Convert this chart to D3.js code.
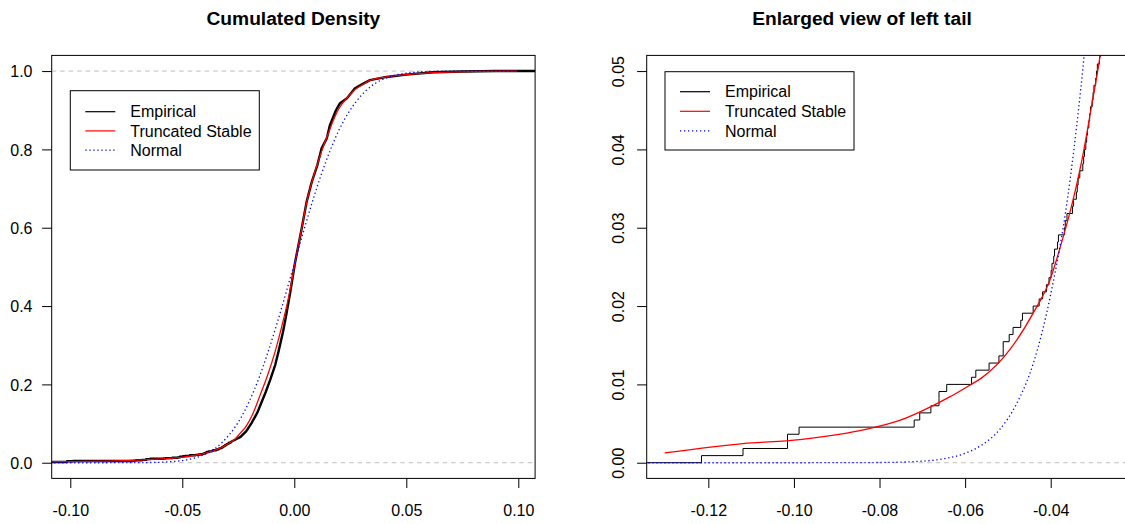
<!DOCTYPE html>
<html>
<head>
<meta charset="utf-8">
<script src="https://cdn.jsdelivr.net/npm/d3@7"></script>
<style>
  body { margin: 0; background: #fff; }
  svg text { font-family: "Liberation Sans", Arial, sans-serif; fill: #000; }
</style>
</head>
<body>
<svg id="chart" width="1125" height="524"></svg>
<script>
// sample size of the empirical distribution
const n = 1100;

// sorted observations in the left tail (read from the enlarged view)
const tailObs = [-0.1216, -0.1119, -0.1015, -0.1015, -0.0988, -0.0719, -0.0706, -0.0680,
  -0.0661, -0.0661, -0.0643, -0.0585, -0.0575, -0.0544, -0.0521, -0.0511, -0.0511,
  -0.0497, -0.0488, -0.0470, -0.0466, -0.0441, -0.0427, -0.0419, -0.0410, -0.0404,
  -0.0399, -0.0397, -0.0393, -0.0391, -0.0384, -0.0382, -0.0368, -0.0366, -0.0362,
  -0.0349, -0.0347, -0.0340, -0.0338, -0.0336, -0.0332, -0.0325, -0.0323, -0.0321,
  -0.0318, -0.0316, -0.0314, -0.0311, -0.0309, -0.0307, -0.0303, -0.0301, -0.0299,
  -0.0295, -0.0293, -0.0291, -0.0286, -0.0284, -0.0282];

// empirical cdf in the body [x, F]
const empBody = [[-0.0260, 0.060], [-0.0240, 0.066], [-0.0215, 0.080], [-0.0190, 0.102],
  [-0.0165, 0.128], [-0.0148, 0.152], [-0.0128, 0.180], [-0.0108, 0.211], [-0.0085, 0.250],
  [-0.0070, 0.285], [-0.0050, 0.335], [-0.0035, 0.380], [-0.0019, 0.432], [0.0003, 0.510],
  [0.0033, 0.598], [0.0055, 0.666], [0.0078, 0.717], [0.0103, 0.760], [0.0122, 0.803],
  [0.0145, 0.828], [0.0159, 0.862], [0.0186, 0.900], [0.0204, 0.918], [0.0234, 0.930],
  [0.0271, 0.956], [0.0308, 0.968], [0.0338, 0.977], [0.0412, 0.985], [0.0500, 0.991],
  [0.0620, 0.997], [0.0750, 0.999], [0.0900, 1.000]];

// truncated stable cdf [x, F]
const stableCdf = [[-0.1302, 0.00125], [-0.1119, 0.00245], [-0.0986, 0.00296], [-0.0830, 0.00428],
  [-0.0753, 0.0054], [-0.0675, 0.0073], [-0.0636, 0.0084], [-0.0589, 0.0099], [-0.0562, 0.0108],
  [-0.0496, 0.0144], [-0.0441, 0.0191], [-0.0402, 0.0233], [-0.0371, 0.0288], [-0.0348, 0.0335],
  [-0.0324, 0.0395], [-0.0305, 0.0454], [-0.0285, 0.0518], [-0.0262, 0.062], [-0.0242, 0.075],
  [-0.0213, 0.095], [-0.0185, 0.125], [-0.0153, 0.172], [-0.0120, 0.222], [-0.0085, 0.285],
  [-0.0055, 0.350], [-0.0022, 0.432], [0.0003, 0.510], [0.0033, 0.598], [0.0055, 0.664],
  [0.0078, 0.716], [0.0103, 0.762], [0.0125, 0.800], [0.0150, 0.838], [0.0175, 0.875],
  [0.0200, 0.905], [0.0230, 0.928], [0.0270, 0.952], [0.0310, 0.967], [0.0338, 0.976],
  [0.0412, 0.985], [0.0500, 0.991], [0.0620, 0.996], [0.0800, 0.999], [0.0993, 1.000]];

// normal cdf [x, F]
const normalCdf = [[-0.134, 0], [-0.100, 0], [-0.080, 0.00003], [-0.070, 0.0002], [-0.065, 0.0005],
  [-0.060, 0.0012], [-0.056, 0.0023], [-0.052, 0.0042], [-0.048, 0.0075], [-0.044, 0.0128],
  [-0.040, 0.0215], [-0.036, 0.034], [-0.032, 0.053], [-0.028, 0.079], [-0.024, 0.113],
  [-0.020, 0.158], [-0.016, 0.213], [-0.012, 0.278], [-0.008, 0.350], [-0.004, 0.428],
  [0.000, 0.508], [0.004, 0.588], [0.008, 0.665], [0.012, 0.735], [0.016, 0.797],
  [0.020, 0.850], [0.024, 0.892], [0.028, 0.925], [0.032, 0.950], [0.036, 0.968],
  [0.040, 0.980], [0.044, 0.988], [0.048, 0.993], [0.052, 0.996], [0.060, 0.999],
  [0.070, 0.9998], [0.100, 1]];

const leftXTicks = [-0.10, -0.05, 0, 0.05, 0.10];
const leftYTicks = [0, 0.2, 0.4, 0.6, 0.8, 1.0];
const rightXTicks = [-0.12, -0.10, -0.08, -0.06, -0.04];
const rightYTicks = [0, 0.01, 0.02, 0.03, 0.04, 0.05];
const legendLabels = ["Empirical", "Truncated Stable", "Normal"];

const svg = d3.select("#chart");
svg.append("rect").attr("width", 1125).attr("height", 524).attr("fill", "#fff");

const fmt = k => (d => d.toFixed(k));

// step corners of the ecdf for the tail observations
function tailSteps(x0) {
  const pts = [[x0, 0]];
  tailObs.forEach((v, i) => {
    pts.push([v, i / n]);
    pts.push([v, (i + 1) / n]);
  });
  return pts;
}

function drawPanel(p) {
  const x = d3.scaleLinear().domain(p.xDomain).range(p.xRange);
  const y = d3.scaleLinear().domain(p.yDomain).range([478.4, 55.4]);
  const g = svg.append("g");
  const clipId = "clip-" + p.id;
  g.append("clipPath").attr("id", clipId)
    .append("rect")
    .attr("x", p.xRange[0]).attr("y", 55.4)
    .attr("width", p.xRange[1] - p.xRange[0]).attr("height", 478.4 - 55.4);

  const plot = g.append("g").attr("clip-path", `url(#${clipId})`);
  const line = d3.line().x(d => x(d[0])).y(d => y(d[1]));

  // reference lines
  p.refLines.forEach(v => {
    plot.append("line")
      .attr("x1", p.xRange[0]).attr("x2", p.xRange[1])
      .attr("y1", y(v)).attr("y2", y(v))
      .attr("stroke", "#bebebe").attr("stroke-width", 1)
      .attr("stroke-dasharray", "4.5,4");
  });

  // empirical
  let emp = tailSteps(p.xDomain[0]);
  if (p.id === "left") {
    emp = emp.concat(empBody).concat([[p.xDomain[1] + 0.01, 1]]);
  }
  plot.append("path").datum(emp)
    .attr("d", line.curve(d3.curveLinear))
    .attr("fill", "none").attr("stroke", "#000")
    .attr("stroke-width", p.empWidth).attr("stroke-linejoin", "round");

  // truncated stable
  plot.append("path").datum(stableCdf)
    .attr("d", d3.line().x(d => x(d[0])).y(d => y(d[1])).curve(d3.curveMonotoneX))
    .attr("fill", "none").attr("stroke", "#ff0000").attr("stroke-width", 1.3);

  // normal
  plot.append("path").datum(normalCdf)
    .attr("d", d3.line().x(d => x(d[0])).y(d => y(d[1])).curve(d3.curveMonotoneX))
    .attr("fill", "none").attr("stroke", "#0000ff").attr("stroke-width", 1.3)
    .attr("stroke-dasharray", "1.3,2.7");

  // box
  g.append("rect")
    .attr("x", p.xRange[0]).attr("y", 55.4)
    .attr("width", p.xRange[1] - p.xRange[0]).attr("height", 478.4 - 55.4)
    .attr("fill", "none").attr("stroke", "#000").attr("stroke-width", 1);

  // x axis
  const xa = g.append("g").attr("transform", "translate(0,478.4)")
    .call(d3.axisBottom(x).tickValues(p.xTicks).tickFormat(fmt(2)).tickSize(9.6).tickSizeOuter(0));
  xa.select(".domain").remove();
  xa.selectAll("line").attr("stroke", "#000");
  xa.selectAll("text").attr("y", 38).attr("dy", 0)
    .style("font-size", "16px").attr("fill", "#000");

  // y axis
  const ya = g.append("g").attr("transform", `translate(${p.xRange[0]},0)`)
    .call(d3.axisLeft(y).tickValues(p.yTicks).tickFormat(fmt(p.yDigits)).tickSize(9.6).tickSizeOuter(0));
  ya.select(".domain").remove();
  ya.selectAll("line").attr("stroke", "#000");
  const yt = ya.selectAll("text").style("font-size", "16px").attr("fill", "#000");
  if (p.rotateY) {
    yt.attr("transform", "rotate(-90)").attr("x", 0).attr("y", -23.2).attr("dy", 0)
      .attr("text-anchor", "middle");
  } else {
    yt.attr("x", -19.2).attr("dy", "0.35em");
  }

  // title
  g.append("text").attr("x", p.titleX).attr("y", 25)
    .attr("text-anchor", "middle")
    .style("font-size", "19.2px").style("font-weight", "bold")
    .text(p.title);

  // legend
  const L = p.legend;
  const lg = g.append("g");
  lg.append("rect").attr("x", L.x).attr("y", L.y).attr("width", L.w).attr("height", L.h)
    .attr("fill", "#fff").attr("stroke", "#000").attr("stroke-width", 1);
  const styles = [
    { stroke: "#000", dash: null },
    { stroke: "#ff0000", dash: null },
    { stroke: "#0000ff", dash: "1.3,2.7" }
  ];
  legendLabels.forEach((lab, i) => {
    const ly = L.y + L.first + i * L.step;
    lg.append("line")
      .attr("x1", L.x + 15).attr("x2", L.x + 45)
      .attr("y1", ly).attr("y2", ly)
      .attr("stroke", styles[i].stroke).attr("stroke-width", 1.2)
      .attr("stroke-dasharray", styles[i].dash);
    lg.append("text").attr("x", L.x + 60).attr("y", ly).attr("dy", "0.35em")
      .style("font-size", "16px").text(lab);
  });
}

drawPanel({
  id: "left",
  xDomain: [-0.1083, 0.1075], xRange: [51.7, 535.1],
  yDomain: [-0.04, 1.04],
  xTicks: leftXTicks, yTicks: leftYTicks, yDigits: 1, rotateY: false,
  refLines: [0, 1], empWidth: 2.4,
  title: "Cumulated Density", titleX: 293.4,
  legend: { x: 70.3, y: 90.7, w: 189, h: 79.3, first: 21, step: 19.2 }
});

drawPanel({
  id: "right",
  xDomain: [-0.1344, -0.0218], xRange: [646.7, 1128.6],
  yDomain: [-0.002, 0.052],
  xTicks: rightXTicks, yTicks: rightYTicks, yDigits: 2, rotateY: true,
  refLines: [0], empWidth: 1,
  title: "Enlarged view of left tail", titleX: 862,
  legend: { x: 665, y: 71.7, w: 189, h: 78.3, first: 20, step: 19.6 }
});
</script>
</body>
</html>
